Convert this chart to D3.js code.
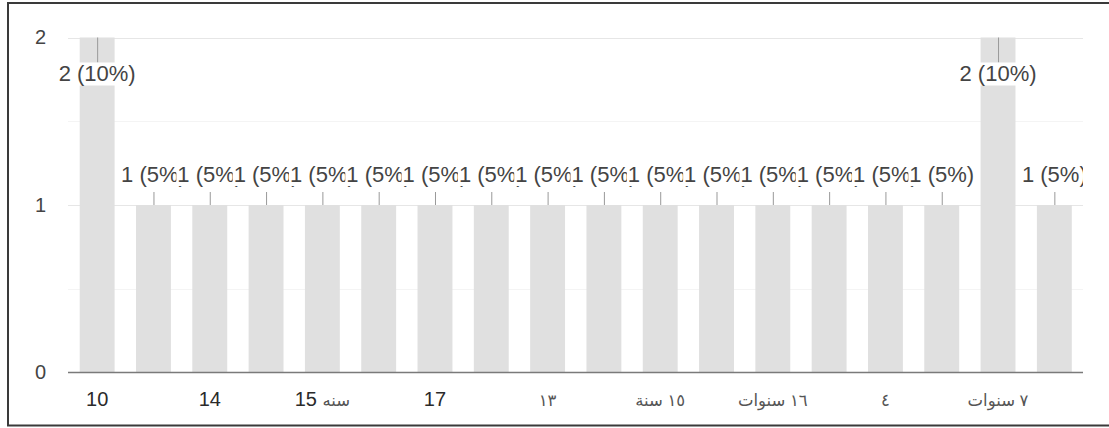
<!DOCTYPE html>
<html>
<head>
<meta charset="utf-8">
<script src="https://cdn.jsdelivr.net/npm/d3@7"></script>
<style>
  html, body { margin: 0; padding: 0; background: #fff; }
  svg { display: block; font-family: "Liberation Sans", Arial, "DejaVu Sans", sans-serif; }
</style>
</head>
<body>
<svg id="canvas" width="1109" height="428"></svg>
<script>
// one bar per answer
let counts = [2, 1, 1, 1, 1, 1, 1, 1, 1, 1, 1, 1, 1, 1, 1, 1, 2, 1];
// only every other category label is shown on the axis
let tickLabels = ["10", "", "14", "", "15 سنه", "", "17", "", "١٣", "", "١٥ سنة", "", "١٦ سنوات", "", "٤", "", "٧ سنوات", ""];
let yTicks = [0, 1, 2];
let minorTicks = [0.5, 1.5];

let total = d3.sum(counts);
let canvas = d3.select('#canvas');

let plotLeft = 68, plotRight = 1083, plotTop = 37.5, plotBottom = 372.5;
let arabic = /[\u0600-\u06FF]/;

let x = d3.scaleBand()
          .domain(d3.range(counts.length))
          .range([69, 1082.5])
          .paddingInner(0.38)
          .paddingOuter(0.19);

let y = d3.scaleLinear()
          .domain([0, 2])
          .range([plotBottom, plotTop]);

// frame round the picture
canvas.append('path')
      .attr('d', `M1109,3 H8 V425.5 H1109`)
      .attr('fill', 'none')
      .attr('stroke', '#3a3a3a')
      .attr('stroke-width', 2);

// gridlines
canvas.append('g')
      .selectAll('line')
      .data(minorTicks)
      .enter()
      .append('line')
      .attr('x1', plotLeft).attr('x2', plotRight)
      .attr('y1', d => Math.round(y(d)) + 0.5).attr('y2', d => Math.round(y(d)) + 0.5)
      .attr('stroke', '#f4f4f4');

canvas.append('g')
      .selectAll('line')
      .data(yTicks.filter(d => d > 0))
      .enter()
      .append('line')
      .attr('x1', plotLeft).attr('x2', plotRight)
      .attr('y1', d => Math.round(y(d)) + 0.5).attr('y2', d => Math.round(y(d)) + 0.5)
      .attr('stroke', '#e6e6e6');

// bars
canvas.append('g')
      .selectAll('rect')
      .data(counts)
      .enter()
      .append('rect')
      .attr('x', (d, i) => x(i))
      .attr('width', x.bandwidth())
      .attr('y', d => y(d))
      .attr('height', d => y(0) - y(d))
      .attr('fill', '#e0e0e0');

// baseline
canvas.append('line')
      .attr('x1', plotLeft).attr('x2', plotRight)
      .attr('y1', y(0)).attr('y2', y(0))
      .attr('stroke', '#7a7a7a')
      .attr('stroke-width', 1.6);

// y axis labels
let yAxis = d3.axisLeft(y).tickValues(yTicks).tickFormat(d3.format('d')).tickSize(0).tickPadding(0);
canvas.append('g')
      .attr('transform', 'translate(46,0)')
      .call(yAxis)
      .call(g => g.select('.domain').remove())
      .call(g => g.selectAll('text')
                  .attr('font-size', 20)
                  .attr('font-family', '"Liberation Sans", Arial, sans-serif')
                  .attr('fill', '#444'));

// x axis labels; arabic words come out smaller and lighter in the original
let xAxis = d3.axisBottom(x).tickFormat(i => tickLabels[i]).tickSize(0).tickPadding(0);
canvas.append('g')
      .attr('transform', 'translate(0,392)')
      .call(xAxis)
      .call(g => g.select('.domain').remove())
      .call(g => g.selectAll('text')
                  .attr('font-size', 20)
                  .attr('font-family', '"Liberation Sans", Arial, "DejaVu Sans", sans-serif')
                  .attr('fill', '#2a2a2a')
                  .each(function(i){
                      let label = tickLabels[i];
                      if(!arabic.test(label)) return;
                      let t = d3.select(this).text('');
                      // split into latin and arabic runs
                      let parts = label.match(/[\u0600-\u06FF]+|[^\u0600-\u06FF]+/g);
                      parts.forEach(p => {
                          let isAr = arabic.test(p) || /^[\s\u0660-\u0669]+$/.test(p);
                          t.append('tspan')
                           .attr('font-size', isAr ? 16.5 : 20)
                           .attr('fill', isAr ? '#555' : '#2a2a2a')
                           .text(p);
                      });
                  }));

// value labels with stems, clipped at the right edge of the plot
canvas.append('clipPath')
      .attr('id', 'labelClip')
      .append('rect')
      .attr('x', 0).attr('y', 0)
      .attr('width', plotRight).attr('height', 428);

let labels = canvas.append('g').attr('clip-path', 'url(#labelClip)');
let maxCount = d3.max(counts);

counts.forEach((v, i) => {
    let cx = x(i) + x.bandwidth() / 2;
    let inside = v === maxCount;
    let stemTop = inside ? y(v) : y(v) - 13;
    let stemBottom = inside ? y(v) + 25 : y(v);
    let baseline = inside ? y(v) + 43.5 : y(v) - 23.5;
    let text = v + ' (' + Math.round(v / total * 100) + '%)';

    let g = labels.append('g');
    g.append('line')
     .attr('x1', cx + 0.5).attr('x2', cx + 0.5)
     .attr('y1', stemTop).attr('y2', stemBottom)
     .attr('stroke', '#999')
     .attr('stroke-width', 1);

    let bg = g.append('rect').attr('fill', '#fff');
    let t = g.append('text')
             .attr('x', cx)
             .attr('y', baseline)
             .attr('text-anchor', 'middle')
             .attr('font-size', 22)
             .attr('fill', '#444')
             .text(text);
    let w = t.node().getComputedTextLength();
    bg.attr('x', cx - w / 2 - 1)
      .attr('width', w + 2)
      .attr('y', baseline - 18.5)
      .attr('height', 23);
});
</script>
</body>
</html>
